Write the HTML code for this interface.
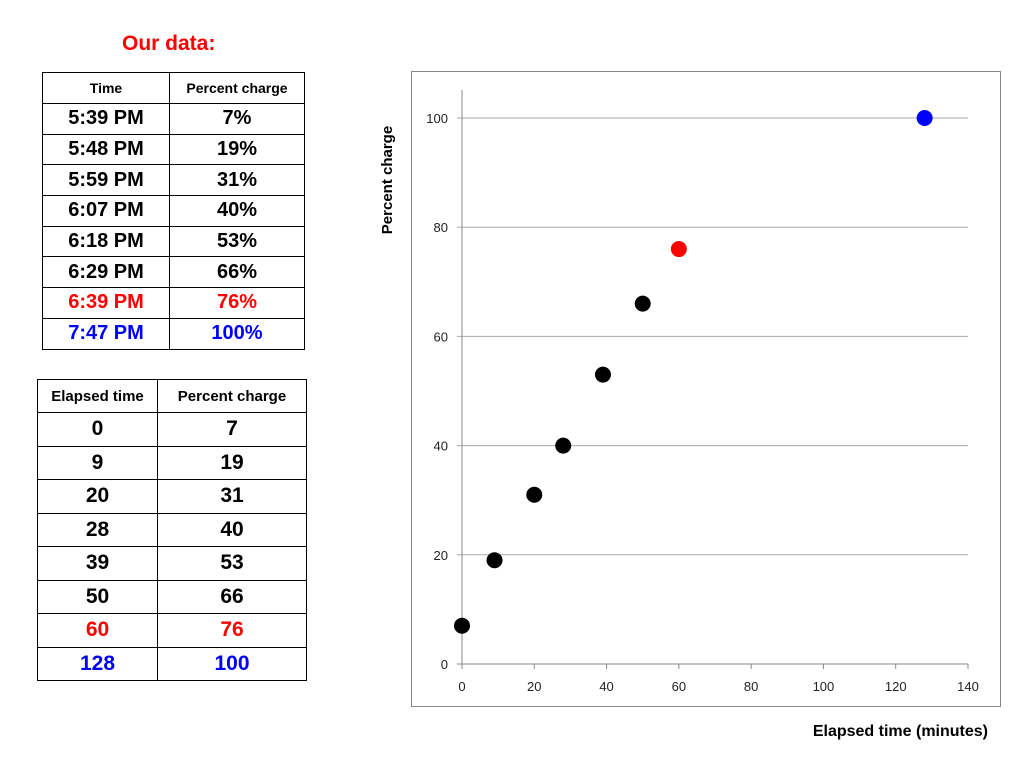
<!DOCTYPE html>
<html><head><meta charset="utf-8"><style>
body{margin:0;width:1024px;height:768px;background:#fff;font-family:"Liberation Sans",sans-serif;position:relative;overflow:hidden}
.t{position:absolute;border-collapse:collapse}
.t td{border:1px solid #000;text-align:center;font-weight:bold;padding:0}
.r{color:#f00}.b{color:#00f}
</style></head><body>
<div style="position:absolute;left:122px;top:32px;color:#f00;font-weight:bold;font-size:21px">Our data:</div>
<table class="t" style="left:42px;top:72px;width:263px">
<tr style="height:31px;font-size:14px"><td style="width:126px">Time</td><td>Percent charge</td></tr>
<tbody style="font-size:20px">
<tr style="height:30.7px"><td>5:39 PM</td><td>7%</td></tr>
<tr style="height:30.7px"><td>5:48 PM</td><td>19%</td></tr>
<tr style="height:30.7px"><td>5:59 PM</td><td>31%</td></tr>
<tr style="height:30.7px"><td>6:07 PM</td><td>40%</td></tr>
<tr style="height:30.7px"><td>6:18 PM</td><td>53%</td></tr>
<tr style="height:30.7px"><td>6:29 PM</td><td>66%</td></tr>
<tr style="height:30.7px" class="r"><td>6:39 PM</td><td>76%</td></tr>
<tr style="height:30.7px" class="b"><td>7:47 PM</td><td>100%</td></tr>
</tbody></table>
<table class="t" style="left:37px;top:379px;width:270px">
<tr style="height:33px;font-size:15px"><td style="width:119px">Elapsed time</td><td>Percent charge</td></tr>
<tbody style="font-size:21px">
<tr style="height:33.5px"><td>0</td><td>7</td></tr>
<tr style="height:33.5px"><td>9</td><td>19</td></tr>
<tr style="height:33.5px"><td>20</td><td>31</td></tr>
<tr style="height:33.5px"><td>28</td><td>40</td></tr>
<tr style="height:33.5px"><td>39</td><td>53</td></tr>
<tr style="height:33.5px"><td>50</td><td>66</td></tr>
<tr style="height:33.5px" class="r"><td>60</td><td>76</td></tr>
<tr style="height:33.5px" class="b"><td>128</td><td>100</td></tr>
</tbody></table>
<svg id="chart" width="1024" height="768" style="position:absolute;left:0;top:0">
<rect x="411.5" y="71.5" width="589" height="635" fill="none" stroke="#888"/>
<text x="392" y="180" transform="rotate(-90 392 180)" text-anchor="middle" font-size="15" font-weight="bold" font-family="Liberation Sans">Percent charge</text>
<text x="988" y="736" text-anchor="end" font-size="16" font-weight="bold" font-family="Liberation Sans">Elapsed time (minutes)</text>
</svg>
<script>
const xs=[0,9,20,28,39,50,60,128];
const ys=[7,19,31,40,53,66,76,100];
const colors=['#000','#000','#000','#000','#000','#000','#f00','#00f'];
const xTicks=[0,20,40,60,80,100,120,140];
const yTicks=[0,20,40,60,80,100];
const X=v=>462+v*(968-462)/140, Y=v=>664-v*(664-118)/100;
const svg=document.getElementById('chart'),NS='http://www.w3.org/2000/svg';
function mk(t,a){const e=document.createElementNS(NS,t);for(const k in a)e.setAttribute(k,a[k]);svg.appendChild(e);return e;}
yTicks.forEach(v=>{
 if(v>0){const g=mk('line',{x1:457,x2:968,y1:Y(v),y2:Y(v),stroke:'#aaa'});
 
 }
 const t=mk('text',{x:448,y:Y(v)+5,'text-anchor':'end','font-size':13,'font-family':'Liberation Sans',fill:'#222'});t.textContent=v;
 
 
});
const ya=mk('line',{x1:462,x2:462,y1:90,y2:664,stroke:'#888'});


const xa=mk('line',{x1:457,x2:968,y1:664,y2:664,stroke:'#888'});


xTicks.forEach(v=>{
 mk('line',{x1:X(v),x2:X(v),y1:664,y2:669,stroke:'#888'});
 const t=mk('text',{x:X(v),y:691,'text-anchor':'middle','font-size':13,'font-family':'Liberation Sans',fill:'#222'});t.textContent=v;
 
 
});
xs.forEach((v,i)=>{
 const c=mk('circle',{cx:X(v),cy:Y(ys[i]),r:8,fill:colors[i]});
 
 
});
</script>
</body></html>
